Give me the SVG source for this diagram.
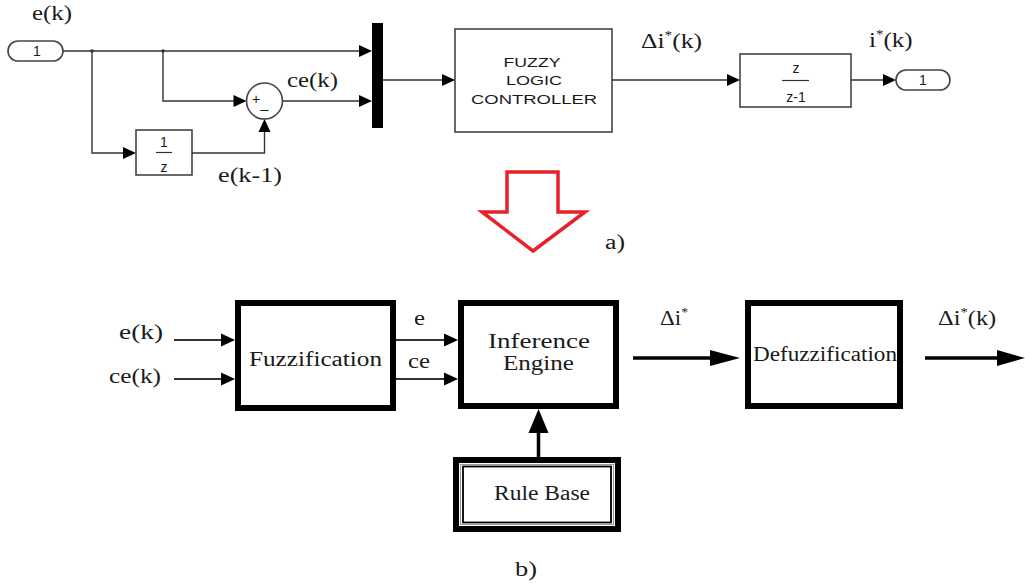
<svg xmlns="http://www.w3.org/2000/svg" width="1025" height="584" viewBox="0 0 1025 584">
<style>
.bg{fill:#fff}
.ln{fill:none;stroke:#333;stroke-width:1.4}
.blk{fill:#fff;stroke:#444;stroke-width:1.6}
.thk{fill:#fff;stroke:#000;stroke-width:6}
.bl{fill:none;stroke:#333;stroke-width:2.2}
.bt{fill:none;stroke:#000;stroke-width:3.5}
.serif{font-family:"Liberation Serif","Times New Roman",serif;font-size:20px;fill:#1a1a1a}
.sans{font-family:"Liberation Sans",Arial,sans-serif;font-size:12px;fill:#1a1a1a}
.num{font-family:"Liberation Sans",Arial,sans-serif;font-size:14px;fill:#1a1a1a}
.ah{fill:#000}
</style>
<rect class="bg" x="0" y="0" width="1025" height="584"/>

<!-- Part a) -->
<g id="inport">
<rect x="8" y="41" width="55" height="20" rx="10" ry="10" class="blk"/>
<text x="37" y="56" class="num" text-anchor="middle">1</text>
</g>
<g id="delay">
<rect x="136" y="130" width="56" height="45" class="blk"/>
<text x="164" y="147" class="num" text-anchor="middle">1</text>
<line x1="156" y1="152.5" x2="172" y2="152.5" stroke="#333" stroke-width="1.2"/>
<text x="164" y="172" class="num" text-anchor="middle">z</text>
</g>
<g id="sum">
<circle cx="264.5" cy="101" r="18" class="blk"/>
<text x="256" y="104" class="num" font-size="12" text-anchor="middle">+</text>
<text x="264.5" y="108" class="num" font-size="12" text-anchor="middle">_</text>
</g>
<g id="mux">
<rect x="372" y="23" width="11" height="105" fill="#000"/>
</g>
<g id="flc">
<rect x="455" y="29" width="157" height="103" class="blk"/>
<text x="532" y="67" class="sans" text-anchor="middle" textLength="57" lengthAdjust="spacingAndGlyphs">FUZZY</text>
<text x="534" y="85" class="sans" text-anchor="middle" textLength="56" lengthAdjust="spacingAndGlyphs">LOGIC</text>
<text x="534" y="104" class="sans" text-anchor="middle" textLength="126" lengthAdjust="spacingAndGlyphs">CONTROLLER</text>
</g>
<g id="integrator">
<rect x="740" y="54" width="111" height="53" class="blk"/>
<text x="796" y="73" class="num" text-anchor="middle">z</text>
<line x1="782" y1="80.5" x2="809" y2="80.5" stroke="#333" stroke-width="1.2"/>
<text x="796" y="102" class="num" text-anchor="middle">z-1</text>
</g>
<g id="outport">
<rect x="896" y="70" width="54" height="20" rx="10" ry="10" class="blk"/>
<text x="923" y="85" class="num" text-anchor="middle">1</text>
</g>

<g id="connectors-a">
<polyline class="ln" points="63,51 360,51"/>
<polygon class="ah" points="372,51 359,45 359,57"/>
<circle cx="92" cy="51" r="1.8" fill="#333"/>
<circle cx="163" cy="51" r="1.8" fill="#333"/>
<polyline class="ln" points="92,51 92,153 124,153"/>
<polygon class="ah" points="136,153 123,147 123,159"/>
<polyline class="ln" points="163,51 163,101 234,101"/>
<polygon class="ah" points="246.5,101 233.5,95 233.5,107"/>
<polyline class="ln" points="283,101 360,101"/>
<polygon class="ah" points="372,101 359,95 359,107"/>
<polyline class="ln" points="192,153 264.5,153 264.5,131"/>
<polygon class="ah" points="264.5,119 258.5,132 270.5,132"/>
<polyline class="ln" points="383,80 443,80"/>
<polygon class="ah" points="455,80 442,74 442,86"/>
<polyline class="ln" points="612,80 728,80"/>
<polygon class="ah" points="740,80 727,74 727,86"/>
<polyline class="ln" points="851,80 884,80"/>
<polygon class="ah" points="896,80 883,74 883,86"/>
</g>

<g id="labels-a">
<text x="32" y="20" class="serif" textLength="40" lengthAdjust="spacingAndGlyphs">e(k)</text>
<text x="287" y="87" class="serif" textLength="51" lengthAdjust="spacingAndGlyphs">ce(k)</text>
<text x="218" y="182" class="serif" textLength="64" lengthAdjust="spacingAndGlyphs">e(k-1)</text>
<text class="serif" transform="translate(641,48) scale(1.28,1)">Δi<tspan font-size="12" dy="-9">*</tspan><tspan dy="9">(k)</tspan></text>
<text class="serif" transform="translate(869,47) scale(1.25,1)">i<tspan font-size="12" dy="-9">*</tspan><tspan dy="9">(k)</tspan></text>
<text x="605" y="249" class="serif" textLength="20" lengthAdjust="spacingAndGlyphs">a)</text>
</g>

<g id="transition-arrow">
<polygon points="507,172 558,172 558,212 585,212 533,251 482,212 507,212" fill="none" stroke="#e8202a" stroke-width="3.5" stroke-linejoin="miter"/>
</g>

<!-- Part b) -->
<g id="fuzzification">
<rect x="238" y="303" width="155" height="105" class="thk"/>
<text x="249" y="366" class="serif" textLength="133" lengthAdjust="spacingAndGlyphs">Fuzzification</text>
</g>
<g id="inference">
<rect x="461" y="303" width="155" height="103" class="thk"/>
<text x="488" y="348" class="serif" textLength="102" lengthAdjust="spacingAndGlyphs">Inference</text>
<text x="503" y="370" class="serif" textLength="71" lengthAdjust="spacingAndGlyphs">Engine</text>
</g>
<g id="defuzzification">
<rect x="748" y="303" width="152" height="103" class="thk"/>
<text x="753" y="361" class="serif" textLength="144" lengthAdjust="spacingAndGlyphs">Defuzzification</text>
</g>
<g id="rulebase">
<rect x="456" y="460" width="162" height="69" fill="#fff" stroke="#000" stroke-width="6"/>
<rect x="460.5" y="464.5" width="153" height="60" fill="none" stroke="#999" stroke-width="1"/>
<rect x="463" y="466.5" width="148" height="56" fill="none" stroke="#000" stroke-width="1.8"/>
<text x="494" y="500" class="serif" textLength="96" lengthAdjust="spacingAndGlyphs">Rule Base</text>
</g>

<g id="connectors-b">
<line class="bl" x1="174" y1="340" x2="222" y2="340"/>
<polygon class="ah" points="235,340 221,333.5 221,346.5"/>
<line class="bl" x1="174" y1="379" x2="222" y2="379"/>
<polygon class="ah" points="235,379 221,372.5 221,385.5"/>
<line class="bl" x1="396" y1="340" x2="445" y2="340"/>
<polygon class="ah" points="458,340 444,333.5 444,346.5"/>
<line class="bl" x1="396" y1="379" x2="445" y2="379"/>
<polygon class="ah" points="458,379 444,372.5 444,385.5"/>
<line class="bt" x1="633" y1="358" x2="712" y2="358"/>
<polygon class="ah" points="740,358 710,350 710,366"/>
<line class="bt" x1="925" y1="358" x2="999" y2="358"/>
<polygon class="ah" points="1025,358 997,350 997,366"/>
<line class="bt" x1="538.5" y1="457" x2="538.5" y2="430"/>
<polygon class="ah" points="538.5,409 528.5,433 548.5,433"/>
</g>

<g id="labels-b">
<text x="119" y="339" class="serif" textLength="44" lengthAdjust="spacingAndGlyphs">e(k)</text>
<text x="109" y="383" class="serif" textLength="52" lengthAdjust="spacingAndGlyphs">ce(k)</text>
<text x="414" y="325" class="serif" textLength="11" lengthAdjust="spacingAndGlyphs">e</text>
<text x="408" y="368" class="serif" textLength="22" lengthAdjust="spacingAndGlyphs">ce</text>
<text class="serif" transform="translate(660,325) scale(1.15,1)">Δi<tspan font-size="12" dy="-9">*</tspan></text>
<text class="serif" transform="translate(938,325) scale(1.22,1)">Δi<tspan font-size="12" dy="-9">*</tspan><tspan dy="9">(k)</tspan></text>
<text x="515" y="576" class="serif" textLength="22" lengthAdjust="spacingAndGlyphs">b)</text>
</g>
</svg>
